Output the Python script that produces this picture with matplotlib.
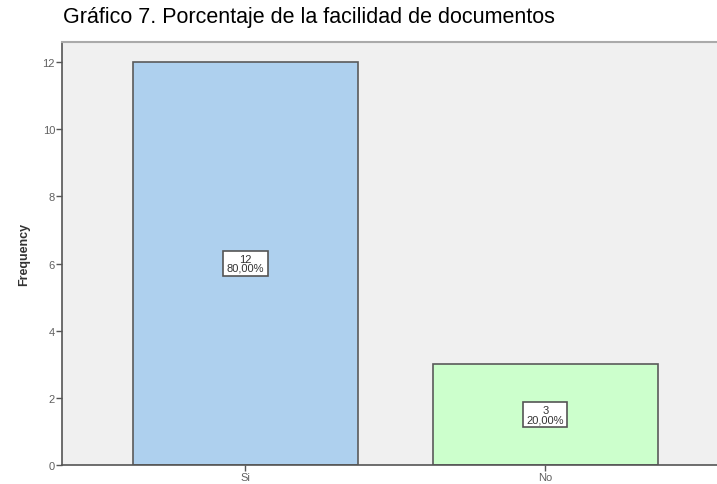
import matplotlib.pyplot as plt
import numpy as np

categories = ['Si', 'No']
frequency = [12, 3]
percent = ['80,00%', '20,00%']
y_ticks = [0, 2, 4, 6, 8, 10, 12]
bar_colors = ['#aed0ee', '#ccffcc']

plt.rcParams['font.family'] = ['Liberation Sans', 'DejaVu Sans']

fig = plt.figure(figsize=(7.17, 4.85), dpi=100)
ax = fig.add_axes([62 / 717, 19 / 485, 1 - 62 / 717, 423 / 485])
ax.set_facecolor('#f0f0f0')

x = np.arange(len(categories))
ax.bar(x, frequency, width=0.75, color=bar_colors, edgecolor='#5a5a5a', linewidth=1.2, zorder=2)

for xi, f, p in zip(x, frequency, percent):
    ax.text(xi, f / 2, f'{f}\n{p}', ha='center', va='center', fontsize=8,
            color='#333333', linespacing=0.85, zorder=3,
            bbox=dict(boxstyle='square,pad=0.3', fc='white', ec='#555555', lw=1.2))

ax.set_xlim(-0.612, 1.573)
ax.set_ylim(0, 12.6)
ax.set_yticks(y_ticks)
ax.set_xticks(x)
ax.set_xticklabels(categories)
ax.tick_params(axis='both', labelsize=8, labelcolor='#606060', color='#555555',
               length=4, width=1, pad=1)
ax.set_ylabel('Frequency', fontsize=9, fontweight='bold', color='#333333', labelpad=9)

for side in ['left', 'bottom']:
    ax.spines[side].set_color('#555555')
    ax.spines[side].set_linewidth(1.2)
ax.spines['top'].set_color('#aaaaaa')
ax.spines['top'].set_linewidth(1.5)
ax.spines['right'].set_visible(False)

fig.text(63 / 717, 1 - 17 / 485, 'Gráfico 7. Porcentaje de la facilidad de documentos',
         ha='left', va='center', fontsize=15.5, color='black')

plt.savefig('out.png', dpi=100)
